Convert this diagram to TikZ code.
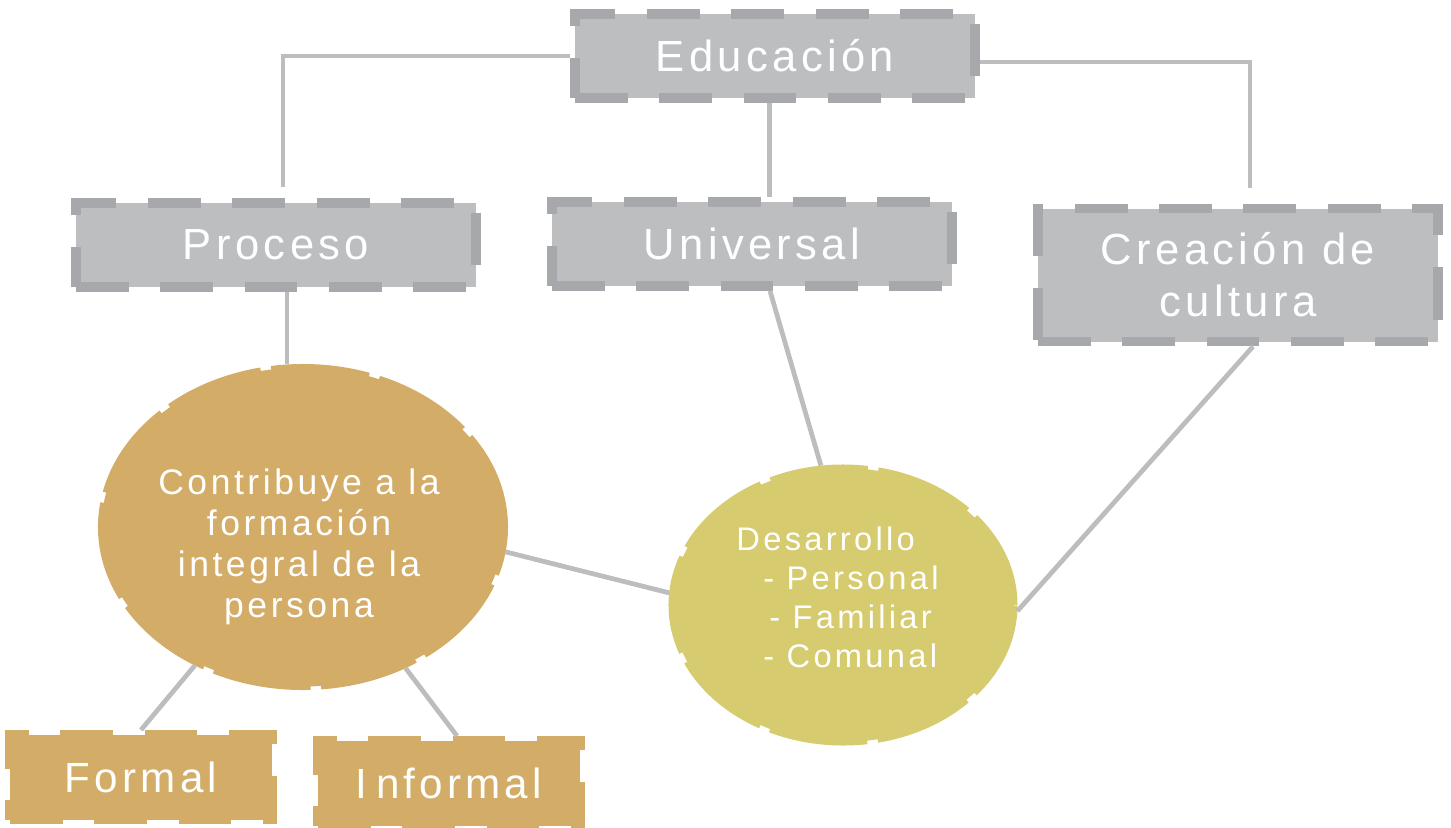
\documentclass[tikz,border=0pt]{standalone}
\usepackage{fontspec}
\setmainfont{Liberation Sans}[LetterSpace=10]
\usepackage{xcolor}
\usepackage{tikz}
\usetikzlibrary{shapes,positioning}

\definecolor{grisfondo}{HTML}{BDBEC0}
\definecolor{grisborde}{HTML}{A7A8AB}
\definecolor{grislinea}{HTML}{BCBDBF}
\definecolor{ocre}{HTML}{D3AC68}
\definecolor{oliva}{HTML}{D6CB6F}

\begin{document}
\begin{tikzpicture}[
    caja/.style={draw=grisborde, fill=grisfondo, line width=2.8pt, dash pattern=on 15pt off 9pt, minimum width=4cm, minimum height=0.84cm, text=white, align=center, font=\fontsize{12.4}{14.8}\selectfont},
    cajaocre/.style={draw=ocre, fill=ocre, line width=2.6pt, dash pattern=on 15pt off 9pt, minimum width=2.62cm, minimum height=0.85cm, text=white, font=\fontsize{12}{14}\selectfont},
    globo/.style={ellipse, line width=2pt, dash pattern=on 28pt off 3pt, inner sep=0pt},
    texto/.style={text=white, font=\fontsize{10.1}{11.7}\selectfont},
    linea/.style={draw=grislinea, line width=1.35pt}
]
\useasboundingbox (0,0) rectangle (14.51,-8.28);

\node[caja] (edu) at (7.75,-0.56) {Educación};
\node[caja] (proc) at (2.76,-2.45) {Proceso};
\node[caja] (uni) at (7.52,-2.44) {Universal};
\node[caja, minimum height=1.33cm] (crea) at (12.38,-2.75) {Creación de\\cultura};

\node[globo, fill=ocre, draw=ocre, minimum width=4.03cm, minimum height=3.19cm] (contrib) at (3.03,-5.27) {};
\node[texto, align=center] (contribtxt) at (2.99,-5.47) {Contribuye a la\\formación\\integral de la\\persona};
\node[globo, fill=oliva, draw=oliva, minimum width=3.42cm, minimum height=2.74cm] (desa) at (8.43,-6.05) {};
\node[texto, align=left, font=\fontsize{9.3}{11.1}\selectfont] (desatxt) at (8.375,-5.975) {Desarrollo\\\hspace*{0.27cm}- Personal\\\hspace*{0.33cm}- Familiar\\\hspace*{0.27cm}- Comunal};

\node[cajaocre] (formal) at (1.41,-7.77) {Formal};
\node[cajaocre] (inform) at (4.49,-7.83) {I\kern0.2em nformal};

\coordinate (procarriba) at (2.83,-1.87);
\coordinate (creaarriba) at (12.50,-1.88);
\draw[linea] (edu.west) -| (procarriba);
\draw[linea] ([yshift=-0.06cm]edu.east) -| (creaarriba);
\draw[linea] ([xshift=-0.055cm]edu.south) -- ([xshift=-0.055cm]edu.south |- uni.north);
\draw[linea] ([xshift=0.11cm]proc.south) -- ([xshift=0.11cm]proc.south |- contrib.north);
\draw[linea] ([xshift=0.18cm]uni.south) -- (desa.99);
\draw[linea] ([xshift=0.15cm]crea.south) -- (desa.-2);
\draw[linea] (contrib.-7) -- (desa.176);
\draw[linea] (contrib.232) -- (formal.north);
\draw[linea] (contrib.-54) -- ([xshift=0.08cm]inform.north);
\end{tikzpicture}
\end{document}
